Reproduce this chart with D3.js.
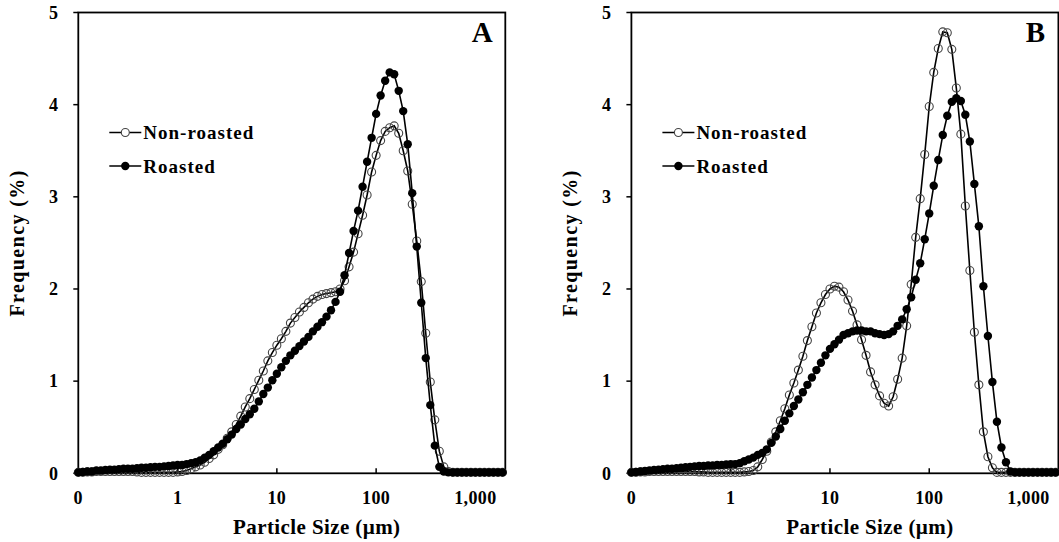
<!DOCTYPE html>
<meta charset="utf-8">
<style>
  body { margin: 0; background: #fff; }
  text { font-family: "Liberation Serif", "Times New Roman", serif; font-weight: bold; fill: #000; }
  .tick-label { font-size: 18px; letter-spacing: 0.4px; }
  .axis-title { font-size: 21px; letter-spacing: 0.4px; }
  .y-title { font-size: 20px; letter-spacing: 1.4px; }
  .legend-text { font-size: 19px; letter-spacing: 1px; }
  .panel-label { font-size: 29px; }
</style>
<svg width="1059" height="542"></svg>
<script src="https://cdnjs.cloudflare.com/ajax/libs/d3/7.8.5/d3.min.js"></script>
<script>

// size classes (um), log spaced
var sizes = [
  0.1000, 0.1110, 0.1233, 0.1369, 0.1520, 0.1688, 0.1874, 0.2081, 0.2310, 0.2565, 0.2848,
  0.3162, 0.3511, 0.3899, 0.4329, 0.4806, 0.5337, 0.5926, 0.6579, 0.7305, 0.8111, 0.9006,
  1.000, 1.110, 1.233, 1.369, 1.520, 1.688, 1.874, 2.081, 2.310, 2.565, 2.848,
  3.162, 3.511, 3.899, 4.329, 4.806, 5.337, 5.926, 6.579, 7.305, 8.111, 9.006,
  10.00, 11.10, 12.33, 13.69, 15.20, 16.88, 18.74, 20.81, 23.10, 25.65, 28.48,
  31.62, 35.11, 38.99, 43.29, 48.06, 53.37, 59.26, 65.79, 73.05, 81.11, 90.06,
  100.0, 111.0, 123.3, 136.9, 152.0, 168.8, 187.4, 208.1, 231.0, 256.5, 284.8,
  316.2, 351.1, 389.9, 432.9, 480.6, 533.7, 592.6, 657.9, 730.5, 811.1, 900.6,
  1000, 1110, 1233, 1369, 1520, 1688, 1874
];

// frequency (%) - panel A
var nonRoastedA = [
  0.01, 0.01, 0.015, 0.015, 0.02, 0.02, 0.02, 0.02, 0.02, 0.02, 0.02, 0.02, 0.02, 0.015,
  0.01, 0.01, 0.01, 0.01, 0.01, 0.01, 0.01, 0.01, 0.015,
  0.02, 0.03, 0.05, 0.07, 0.09, 0.12, 0.16, 0.20, 0.26, 0.31, 0.38, 0.45, 0.53, 0.62, 0.72, 0.81, 0.91, 1.01, 1.11, 1.22, 1.31,
  1.39, 1.46, 1.54, 1.63, 1.69, 1.75, 1.80, 1.85, 1.89, 1.92, 1.94, 1.95, 1.96, 1.97, 2.00, 2.09, 2.24, 2.40, 2.60, 2.80, 3.02, 3.27,
  3.45, 3.61, 3.71, 3.75, 3.77, 3.69, 3.50, 3.28, 2.92, 2.52, 2.08, 1.52, 0.99, 0.58, 0.24, 0.07, 0.02, 0.01, 0.01, 0.01, 0.01, 0.01,
  0.01, 0.01, 0.01, 0.01, 0.01, 0.01, 0.01
];
var roastedA = [
  0.01, 0.015, 0.02, 0.02, 0.03, 0.03, 0.035, 0.04, 0.04, 0.045, 0.05, 0.05, 0.05, 0.055, 0.06, 0.06, 0.065, 0.07, 0.07, 0.075, 0.08, 0.085, 0.09,
  0.09, 0.10, 0.11, 0.12, 0.14, 0.17, 0.20, 0.24, 0.28, 0.32, 0.37, 0.42, 0.48, 0.53, 0.59, 0.64, 0.70, 0.78, 0.86, 0.93, 1.01,
  1.08, 1.15, 1.22, 1.28, 1.33, 1.38, 1.43, 1.48, 1.54, 1.59, 1.64, 1.70, 1.77, 1.86, 1.97, 2.15, 2.39, 2.63, 2.85, 3.11, 3.38, 3.64,
  3.90, 4.10, 4.26, 4.35, 4.33, 4.15, 3.93, 3.57, 3.04, 2.46, 1.85, 1.25, 0.74, 0.30, 0.07, 0.02, 0.01, 0.01, 0.01, 0.01, 0.01, 0.01,
  0.01, 0.01, 0.01, 0.01, 0.01, 0.01, 0.01
];

// frequency (%) - panel B
var nonRoastedB = [
  0.01, 0.01, 0.015, 0.015, 0.02, 0.02, 0.02, 0.02, 0.02, 0.02, 0.02, 0.02, 0.02, 0.02, 0.02, 0.015, 0.015,
  0.01, 0.01, 0.01, 0.01, 0.01, 0.01, 0.01, 0.01, 0.015, 0.02,
  0.03, 0.07, 0.15, 0.24, 0.34, 0.45, 0.57, 0.70, 0.85, 0.98, 1.12, 1.27, 1.44, 1.59, 1.74, 1.85, 1.94,
  2.00, 2.03, 2.02, 1.97, 1.88, 1.76, 1.61, 1.45, 1.28, 1.10, 0.96, 0.84, 0.76, 0.73, 0.83, 1.02, 1.25, 1.60, 2.05, 2.56, 2.98, 3.46,
  3.98, 4.35, 4.61, 4.79, 4.78, 4.60, 4.18, 3.68, 2.90, 2.20, 1.53, 0.96, 0.45, 0.18, 0.06, 0.01, 0.01, 0.01, 0.01, 0.01, 0.01, 0.01,
  0.01, 0.01, 0.01, 0.01, 0.01, 0.01, 0.01
];
var roastedB = [
  0.01, 0.015, 0.02, 0.025, 0.03, 0.035, 0.04, 0.045, 0.05, 0.05, 0.055, 0.06, 0.065, 0.07, 0.075, 0.08, 0.08, 0.085, 0.085,
  0.09, 0.09, 0.095, 0.10, 0.10, 0.11, 0.13, 0.15,
  0.17, 0.20, 0.22, 0.26, 0.33, 0.40, 0.48, 0.57, 0.65, 0.73, 0.80, 0.88, 0.96, 1.04, 1.12, 1.20, 1.28,
  1.35, 1.40, 1.45, 1.50, 1.52, 1.54, 1.55, 1.55, 1.54, 1.54, 1.52, 1.51, 1.50, 1.51, 1.54, 1.60, 1.67, 1.78, 1.91, 2.10, 2.28, 2.54,
  2.82, 3.12, 3.40, 3.67, 3.88, 4.03, 4.07, 4.04, 3.89, 3.60, 3.14, 2.68, 2.03, 1.49, 0.99, 0.56, 0.28, 0.12, 0.02, 0.01, 0.01, 0.01,
  0.01, 0.01, 0.01, 0.01, 0.01, 0.01, 0.01
];

var xTicks = [0.1, 1, 10, 100, 1000];
var yTicks = [0, 1, 2, 3, 4, 5];
var seriesNames = ['Non-roasted', 'Roasted'];

var svg = d3.select('svg');
var plotTop = 12.5, plotBottom = 473.3, plotW = 427;

var fmt = d3.format(',');

function drawPanel(left, letter, nonRoasted, roasted) {
    var right = left + plotW;
    var x = d3.scaleLog().domain([0.1, 2000]).range([left, right]);
    var y = d3.scaleLinear().domain([0, 5]).range([plotBottom, plotTop]);
    var g = svg.append('g');

    // frame
    g.append('rect')
        .attr('x', left).attr('y', plotTop)
        .attr('width', right - left).attr('height', plotBottom - plotTop)
        .attr('fill', 'none').attr('stroke', '#000').attr('stroke-width', 1.8);

    // y ticks + labels
    g.selectAll('.ytick').data(yTicks).enter().append('line')
        .attr('x1', left - 5).attr('x2', left)
        .attr('y1', function(d) { return y(d); }).attr('y2', function(d) { return y(d); })
        .attr('stroke', '#000').attr('stroke-width', 1.5);
    g.selectAll('.ylab').data(yTicks).enter().append('text')
        .attr('class', 'tick-label')
        .attr('x', left - 20).attr('y', function(d) { return y(d); })
        .attr('dy', '0.35em').attr('text-anchor', 'end')
        .text(function(d) { return d; });

    // x ticks (inside) + labels
    g.selectAll('.xtick').data(xTicks.slice(1)).enter().append('line')
        .attr('x1', function(d) { return x(d); }).attr('x2', function(d) { return x(d); })
        .attr('y1', plotBottom).attr('y2', plotBottom - 5)
        .attr('stroke', '#000').attr('stroke-width', 1.5);
    g.selectAll('.xlab').data(xTicks).enter().append('text')
        .attr('class', 'tick-label')
        .attr('x', function(d) { return x(d); }).attr('y', 504)
        .attr('text-anchor', 'middle')
        .text(function(d) { return d < 1 ? '0' : fmt(d); });

    // axis titles
    g.append('text').attr('class', 'axis-title')
        .attr('x', left + 238.5).attr('y', 534)
        .attr('text-anchor', 'middle')
        .text('Particle Size (\u00b5m)');
    g.append('text').attr('class', 'y-title')
        .attr('transform', 'translate(' + (left - 54) + ',' + ((plotTop + plotBottom) / 2) + ') rotate(-90)')
        .attr('text-anchor', 'middle')
        .text('Frequency (%)');

    var line = d3.line()
        .x(function(d, i) { return x(sizes[i]); })
        .y(function(d) { return y(d); });

    // non-roasted: open circles
    g.append('path').datum(nonRoasted)
        .attr('d', line).attr('fill', 'none')
        .attr('stroke', '#000').attr('stroke-width', 1.6);
    g.selectAll('.open').data(nonRoasted).enter().append('circle')
        .attr('cx', function(d, i) { return x(sizes[i]); })
        .attr('cy', function(d) { return y(d); })
        .attr('r', 4)
        .attr('fill', 'none').attr('stroke', '#444').attr('stroke-width', 1.1);

    // roasted: filled circles
    g.append('path').datum(roasted)
        .attr('d', line).attr('fill', 'none')
        .attr('stroke', '#000').attr('stroke-width', 1.6);
    g.selectAll('.filled').data(roasted).enter().append('circle')
        .attr('cx', function(d, i) { return x(sizes[i]); })
        .attr('cy', function(d) { return y(d); })
        .attr('r', 4.2)
        .attr('fill', '#000');

    // legend
    var ly = [132.5, 166];
    seriesNames.forEach(function(name, i) {
        var lx = left + 31;
        g.append('line')
            .attr('x1', lx).attr('x2', lx + 32)
            .attr('y1', ly[i]).attr('y2', ly[i])
            .attr('stroke', '#000').attr('stroke-width', 1.6);
        g.append('circle')
            .attr('cx', lx + 16).attr('cy', ly[i]).attr('r', i === 0 ? 4 : 4.2)
            .attr('fill', i === 0 ? '#fff' : '#000')
            .attr('stroke', i === 0 ? '#444' : 'none').attr('stroke-width', 1.1);
        g.append('text').attr('class', 'legend-text')
            .attr('x', lx + 34).attr('y', ly[i]).attr('dy', '0.35em')
            .text(name);
    });

    // panel letter
    g.append('text').attr('class', 'panel-label')
        .attr('x', right - 23).attr('y', 42)
        .attr('text-anchor', 'middle')
        .text(letter);
}

drawPanel(78.3, 'A', nonRoastedA, roastedA);
drawPanel(631.4, 'B', nonRoastedB, roastedB);

</script>
